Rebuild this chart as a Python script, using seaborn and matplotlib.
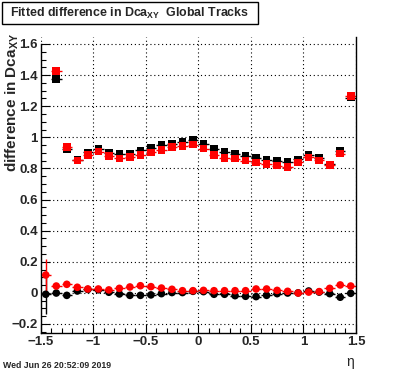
import numpy as np
import pandas as pd
import seaborn as sns
import matplotlib
matplotlib.use("Agg")
import matplotlib.pyplot as plt
from matplotlib.ticker import MultipleLocator
from matplotlib.patches import Rectangle

# ---------------- data ----------------
eta_all = [-1.45, -1.35, -1.25, -1.15, -1.05, -0.95, -0.85, -0.75, -0.65, -0.55,
           -0.45, -0.35, -0.25, -0.15, -0.05, 0.05, 0.15, 0.25, 0.35, 0.45,
           0.55, 0.65, 0.75, 0.85, 0.95, 1.05, 1.15, 1.25, 1.35, 1.45]
eta_upper = eta_all[1:]

upper_black = [1.375, 0.922, 0.855, 0.903, 0.927, 0.901, 0.891, 0.895, 0.916, 0.933,
               0.953, 0.959, 0.968, 0.981, 0.960, 0.927, 0.908, 0.895, 0.880, 0.867,
               0.856, 0.848, 0.841, 0.858, 0.886, 0.869, 0.826, 0.912, 1.255]
upper_red = [1.426, 0.936, 0.852, 0.888, 0.908, 0.880, 0.865, 0.875, 0.888, 0.903,
             0.920, 0.936, 0.946, 0.953, 0.928, 0.888, 0.869, 0.863, 0.850, 0.837,
             0.830, 0.818, 0.811, 0.839, 0.871, 0.852, 0.824, 0.895, 1.265]
lower_black = [-0.009, -0.001, -0.016, 0.012, 0.022, 0.020, 0.004, -0.007, -0.016, -0.016,
               -0.013, -0.005, 0.002, 0.002, 0.010, 0.008, -0.009, -0.009, -0.018, -0.022,
               -0.024, -0.016, -0.005, -0.001, 0.000, 0.012, 0.005, -0.005, -0.028, -0.003]
lower_red = [0.115, 0.044, 0.055, 0.036, 0.025, 0.025, 0.019, 0.029, 0.038, 0.046,
             0.040, 0.031, 0.023, 0.014, 0.014, 0.016, 0.014, 0.014, 0.014, 0.014,
             0.025, 0.025, 0.016, 0.010, -0.001, 0.005, 0.008, 0.029, 0.051, 0.044]

err_upper_black = [0.010] * 29
err_upper_red = [0.010] * 29
err_lower_black = [0.13] + [0.008] * 29
err_lower_red = [0.10] + [0.008] * 29

half_bin = 0.05

title_text = r"Fitted difference in Dca$_{\mathbf{XY}}$  Global Tracks"
ylabel_text = r"difference in Dca$_{\mathbf{XY}}$"
date_text = "Wed Jun 26 20:52:09 2019"

# ---------------- frame ----------------
frames = []
for name, xs, ys, es, col, mk in [
    ("upper_black", eta_upper, upper_black, err_upper_black, "black", "s"),
    ("lower_black", eta_all, lower_black, err_lower_black, "black", "o"),
    ("upper_red", eta_upper, upper_red, err_upper_red, "red", "s"),
    ("lower_red", eta_all, lower_red, err_lower_red, "red", "o"),
]:
    frames.append(pd.DataFrame({"eta": xs, "val": ys, "err": es, "series": name,
                                "color": col, "marker": mk}))
df = pd.concat(frames, ignore_index=True)

sns.set_theme(style="white")
plt.rcParams["font.family"] = ["Liberation Sans", "DejaVu Sans"]
plt.rcParams["mathtext.fontset"] = "custom"
plt.rcParams["mathtext.rm"] = "Liberation Sans"
plt.rcParams["mathtext.bf"] = "Liberation Sans:bold"
plt.rcParams["mathtext.it"] = "Liberation Sans:italic"

fig = plt.figure(figsize=(3.96, 3.72), dpi=100)
ax = fig.add_axes([40.5 / 396, 1 - 333 / 372, (356 - 40.5) / 396, (333 - 37) / 372])

for name in ["upper_black", "lower_black", "upper_red", "lower_red"]:
    d = df[df.series == name]
    ax.errorbar(d.eta, d.val, xerr=half_bin, yerr=d.err, fmt="none",
                ecolor=d.color.iloc[0], elinewidth=1.0, capsize=0, zorder=2)

palette = {"upper_black": "black", "lower_black": "black", "upper_red": "red", "lower_red": "red"}
markers = {"upper_black": "s", "lower_black": "o", "upper_red": "s", "lower_red": "o"}
sns.scatterplot(data=df, x="eta", y="val", hue="series", style="series",
                palette=palette, markers=markers, s=30, linewidth=0,
                legend=False, ax=ax, zorder=3)

ax.set_xlim(-1.5, 1.5)
ax.set_ylim(-0.258, 1.645)
ax.set_xlabel("")
ax.set_ylabel("")

ax.xaxis.set_major_locator(MultipleLocator(0.5))
ax.xaxis.set_minor_locator(MultipleLocator(0.1))
ax.yaxis.set_major_locator(MultipleLocator(0.2))
ax.yaxis.set_minor_locator(MultipleLocator(0.05))

def fmt(v, pos):
    s = ("%g" % round(v, 3))
    return s.replace("-", "\u2212")
ax.xaxis.set_major_formatter(plt.FuncFormatter(fmt))
ax.yaxis.set_major_formatter(plt.FuncFormatter(fmt))

ax.tick_params(which="both", direction="in", top=False, right=False,
               left=True, bottom=True, color="black", width=0.8)
ax.tick_params(which="major", length=6.5, labelsize=9.5, pad=2)
ax.tick_params(which="minor", length=3.6)
for lab in ax.get_xticklabels() + ax.get_yticklabels():
    lab.set_fontweight("bold")

ax.grid(True, which="major", color="black", linestyle=(0, (1, 2.5)), linewidth=0.8)
ax.set_axisbelow(True)

ax.spines["top"].set_visible(False)
for sp in ["left", "right", "bottom"]:
    ax.spines[sp].set_color("black")
    ax.spines[sp].set_linewidth(1.0)
ax.spines["left"].set_bounds(-0.258, 1.6)

# title box
fig.patches.append(Rectangle((2 / 396, 1 - 24 / 372), 256 / 396, 22 / 372,
                             transform=fig.transFigure, facecolor="white",
                             edgecolor="black", linewidth=1.0))
fig.text(130 / 396, 1 - 13 / 372, title_text, ha="center", va="center",
         fontsize=8.9, fontweight="bold")

fig.text(12.5 / 396, 1 - 33 / 372, ylabel_text, ha="center", va="top",
         rotation=90, fontsize=11, fontweight="bold")
fig.text(350 / 396, 1 - 362 / 372, "\u03b7", ha="center", va="center", fontsize=10)
fig.text(3 / 396, 1 - 365 / 372, date_text, ha="left", va="center",
         fontsize=6.3, fontweight="bold")

fig.savefig("out.png", dpi=100)
